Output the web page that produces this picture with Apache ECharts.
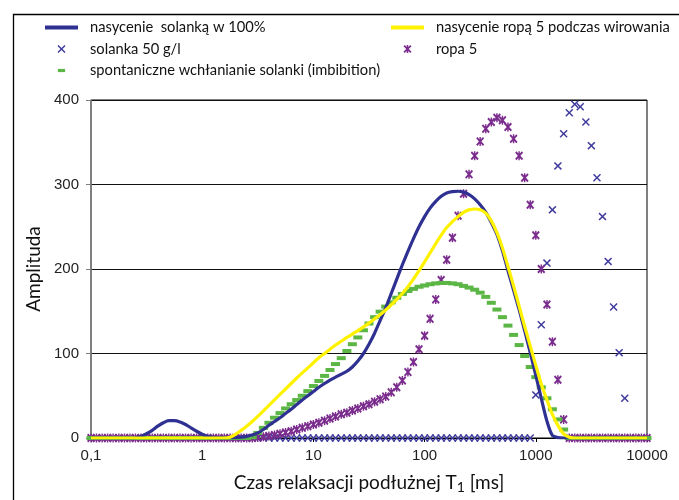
<!DOCTYPE html>
<html>
<head>
<meta charset="utf-8">
<script src="https://cdn.jsdelivr.net/npm/echarts@6/dist/echarts.min.js"></script>
<style>
  html, body { margin: 0; padding: 0; background: #fff; }
  #chart { width: 679px; height: 500px; }
</style>
</head>
<body>
<div id="chart"></div>
<script>
// T1 sampling grid: 20 points per decade, 0.1 ms ... 10000 ms
const DECADE_STEPS = [1, 1.12, 1.26, 1.41, 1.58, 1.78, 2, 2.24, 2.51, 2.82,
                      3.16, 3.55, 3.98, 4.47, 5.01, 5.62, 6.31, 7.08, 7.94, 8.91];
const DECADES = [0.1, 1, 10, 100, 1000];
const LAST_T1 = 10000;

const X_TICK_LABELS = ['0,1', '1', '10', '100', '1000', '10000'];
const Y_TICKS = [0, 100, 200, 300, 400];

const SERIES_NAMES = [
  'nasycenie  solanką w 100%',
  'nasycenie ropą 5 podczas wirowania',
  'solanka 50 g/l',
  'ropa 5',
  'spontaniczne wchłanianie solanki (imbibition)'
];

// nasycenie solanką w 100% (continuous curve)
const brineFull = [
  0, 0, 0, 0, 0, 0, 0, 0,
  0.3, 2, 5, 9, 14, 18, 20.5, 20.5, 19, 16, 12, 8, 4.5, 2, 0.7,
  0.3, 0.2, 0.3, 0.5, 1, 2, 3.5,
  6, 10, 15, 19.5, 24, 29, 34, 39.5, 45, 50,
  55, 60, 64.5, 68.5, 72, 75.5, 79, 84, 91, 100,
  111, 124, 139, 154, 171, 188, 205, 221, 236, 250,
  262, 272, 280, 286, 290, 291.5, 292, 291, 288, 283,
  276, 267, 255, 241, 222, 198, 175, 152, 127, 101,
  74, 47, 20, 3, 0.5, 0, 0, 0, 0, 0,
  0, 0, 0, 0, 0, 0, 0, 0, 0, 0, 0
];

// nasycenie ropą 5 podczas wirowania (continuous curve)
const oilSpin = [
  0, 0, 0, 0, 0, 0, 0, 0, 0, 0, 0, 0, 0, 0, 0, 0, 0, 0, 0, 0, 0, 0, 0, 0, 0,
  1, 4.5, 9, 14, 19.5,
  25.5, 32, 38.5, 45, 51.5, 58, 64.5, 71, 77, 83,
  89, 95, 100, 105, 110, 114.5, 119, 123, 127, 131.5,
  136, 141, 146, 151.5, 157.5, 164, 171, 179, 188, 198,
  208.5, 219, 230, 240, 249, 256, 262, 267, 270, 271,
  270, 266, 257, 243, 225, 203, 180, 156, 132, 109,
  86, 64, 45, 28, 15, 5, 1, 0, 0, 0,
  0, 0, 0, 0, 0, 0, 0, 0, 0, 0, 0
];

// solanka 50 g/l (points; null where the series has no point)
const brine50 = [
  null, null, null, null, null, null, null, null, null, null,
  null, null, null, null, null, null, null, null, null, null,
  null, null, null, null, null, null, null, null, null, null,
  0, 0, 0, 0, 0, 0, 0, 0, 0, 0,
  0, 0, 0, 0, 0, 0, 0, 0, 0, 0, 0, 0, 0, 0, 0, 0, 0, 0, 0, 0,
  0, 0, 0, 0, 0, 0, 0, 0, 0, 0, 0, 0, 0, 0, 0, 0, 0, 0, 0, 0,
  51, 134, 207, 270, 322, 360, 385, 395, 392, 374,
  346, 308, 262, 209, 155, 101, 47,
  null, null, null, null
];

// ropa 5 (points)
const oil5 = [
  0, 0, 0, 0, 0, 0, 0, 0, 0, 0, 0, 0, 0, 0, 0,
  0, 0, 0, 0, 0, 0, 0, 0, 0, 0, 0, 0, 0, 0, 0,
  0.5, 1.5, 2.5, 3.5, 5, 6.5, 8, 10, 12, 14,
  16, 18, 20.5, 23, 25.5, 28, 30, 32.5, 35, 37.5,
  40, 43, 46, 49, 54, 60, 68, 78, 90, 105,
  121, 141, 164, 187, 211, 237, 263, 289, 312, 334,
  351, 366, 374, 379, 376, 368, 354, 334, 308, 276,
  240, 200, 158, 114, 69, 22,
  0, 0, 0, 0, 0, 0, 0, 0, 0, 0, 0, 0, 0, 0, 0
];

// spontaniczne wchłanianie solanki (points)
const imbibition = [
  0, 0, 0, 0, 0, 0, 0, 0, 0, 0, 0, 0, 0, 0, 0,
  0, 0, 0, 0, 0, 0, 0, 0, 0, 0, 0, 0, 0, 0,
  1,
  6, 12, 18, 24, 29.5, 35, 40, 45, 50, 55.5,
  61.5, 67.5, 73.5, 80.5, 87.5, 94.5, 103, 111, 119, 127.5,
  135.5, 143, 149.5, 155.5, 160.5, 166, 170.5, 174, 176.5, 179,
  180.5, 182, 183, 183.5, 183.5, 183, 182, 180, 178, 175.5,
  172, 167, 160, 152, 143, 133, 122, 110, 97, 84,
  72, 60, 47, 34, 22, 10,
  0, 0, 0, 0, 0, 0, 0, 0, 0, 0, 0, 0, 0, 0, 0
];

// ---- build the T1 axis values ----
const t1 = [];
DECADES.forEach(d => DECADE_STEPS.forEach(s => t1.push(+(d * s).toPrecision(3))));
t1.push(LAST_T1);
const pairs = arr => arr.map((v, i) => [t1[i], v]).filter(p => p[1] !== null);

// marker shapes
const X_PATH = 'path://M0,1.3L1.3,0L5,3.7L8.7,0L10,1.3L6.3,5L10,8.7L8.7,10L5,6.3L1.3,10L0,8.7L3.7,5Z';
const STAR_PATH = 'path://M0,1.6L1.6,0L5,3.4L8.4,0L10,1.6L6.6,5L10,8.4L8.4,10L5,6.6L1.6,10L0,8.4L3.4,5Z' +
                  'M4.1,0H5.9V10H4.1Z';
const DASH_PATH = 'path://M0,0H10V4.4H0Z';
const DASH_ICON = 'path://M0,0M10,10M0.5,3H9.5V7H0.5Z';
const LINE_ICON = 'path://M0,0H33V4H0Z';

const COLORS = {
  brineFull: '#2E3192',
  oilSpin: '#FFF200',
  brine50: '#3F3C9E',
  oil5: '#7B2D8E',
  imbibition: '#5CB646'
};

const TEXT_FONT = 'Lato';
const TICK_FONT = 'Liberation Sans';

const legendText = {
  fontFamily: TEXT_FONT, fontSize: 14.7, color: '#111', lineHeight: 14,
  padding: [0, 0, 0, 7]
};

const chart = echarts.init(document.getElementById('chart'), null, { renderer: 'canvas' });

chart.setOption({
  animation: false,
  backgroundColor: '#fff',
  graphic: [{
    type: 'rect', left: 11, top: 12, silent: true, z: -10,
    shape: { width: 720, height: 600 },
    style: { fill: 'none', stroke: '#000', lineWidth: 1.3 }
  }],
  legend: [
    {
      left: 45, top: 20, padding: 0, orient: 'vertical', itemGap: 6.5,
      itemWidth: 33, itemHeight: 8,
      textStyle: legendText,
      data: [
        { name: SERIES_NAMES[0], icon: LINE_ICON },
        { name: SERIES_NAMES[2], icon: X_PATH },
        { name: SERIES_NAMES[4], icon: DASH_ICON }
      ]
    },
    {
      left: 391, top: 20, padding: 0, orient: 'vertical', itemGap: 6.5,
      itemWidth: 33, itemHeight: 8,
      textStyle: legendText,
      data: [
        { name: SERIES_NAMES[1], icon: LINE_ICON },
        { name: SERIES_NAMES[3], icon: STAR_PATH }
      ]
    }
  ],
  grid: {
    left: 91, right: 32, top: 100, bottom: 62,
    show: true, borderColor: '#000', borderWidth: 1
  },
  xAxis: {
    type: 'log', logBase: 10, min: 0.1, max: 10000,
    name: 'Czas relaksacji podłużnej T{sub|1} [ms]',
    nameLocation: 'middle', nameGap: 34,
    nameTextStyle: {
      fontFamily: TEXT_FONT, fontSize: 19, color: '#111', lineHeight: 22,
      rich: { sub: { fontFamily: TEXT_FONT, fontSize: 14, color: '#111', lineHeight: 14, verticalAlign: 'bottom', padding: [6, 0, 0, 0] } }
    },
    axisLine: { show: true, lineStyle: { color: '#000', width: 1 } },
    axisTick: { show: true, length: 4, lineStyle: { color: '#000' } },
    minorTick: { show: false },
    splitLine: { show: false },
    axisLabel: {
      fontFamily: TICK_FONT, fontSize: 15, color: '#222', margin: 10,
      formatter: v => X_TICK_LABELS[Math.round(Math.log10(v)) + 1]
    }
  },
  yAxis: {
    type: 'value', min: Y_TICKS[0], max: Y_TICKS[Y_TICKS.length - 1], interval: 100,
    name: 'Amplituda', nameLocation: 'middle', nameRotate: 90, nameGap: 47,
    nameTextStyle: { fontFamily: TEXT_FONT, fontSize: 19, color: '#111' },
    axisLine: { show: true, lineStyle: { color: '#808080', width: 1.5 } },
    axisTick: { show: true, length: 5, lineStyle: { color: '#808080' } },
    splitLine: { show: true, lineStyle: { color: '#111', width: 1 } },
    axisLabel: { fontFamily: TICK_FONT, fontSize: 15, color: '#222', margin: 12 }
  },
  series: [
    {
      name: SERIES_NAMES[0], type: 'line', data: pairs(brineFull),
      symbol: 'none', smooth: 0.3,
      lineStyle: { color: COLORS.brineFull, width: 3.2 },
      itemStyle: { color: COLORS.brineFull }
    },
    {
      name: SERIES_NAMES[1], type: 'line', data: pairs(oilSpin),
      symbol: 'none', smooth: 0.3,
      lineStyle: { color: COLORS.oilSpin, width: 3.2 },
      itemStyle: { color: COLORS.oilSpin }
    },
    {
      name: SERIES_NAMES[2], type: 'scatter', data: pairs(brine50),
      symbol: X_PATH, symbolSize: 8,
      itemStyle: { color: COLORS.brine50, opacity: 1 }
    },
    {
      name: SERIES_NAMES[3], type: 'scatter', data: pairs(oil5),
      symbol: STAR_PATH, symbolSize: [8, 9], symbolKeepAspect: false,
      itemStyle: { color: COLORS.oil5, opacity: 1 }
    },
    {
      name: SERIES_NAMES[4], type: 'scatter', data: pairs(imbibition),
      symbol: DASH_PATH, symbolSize: [9, 4], symbolKeepAspect: false,
      itemStyle: { color: COLORS.imbibition, opacity: 1 }
    }
  ]
});
</script>
</body>
</html>
